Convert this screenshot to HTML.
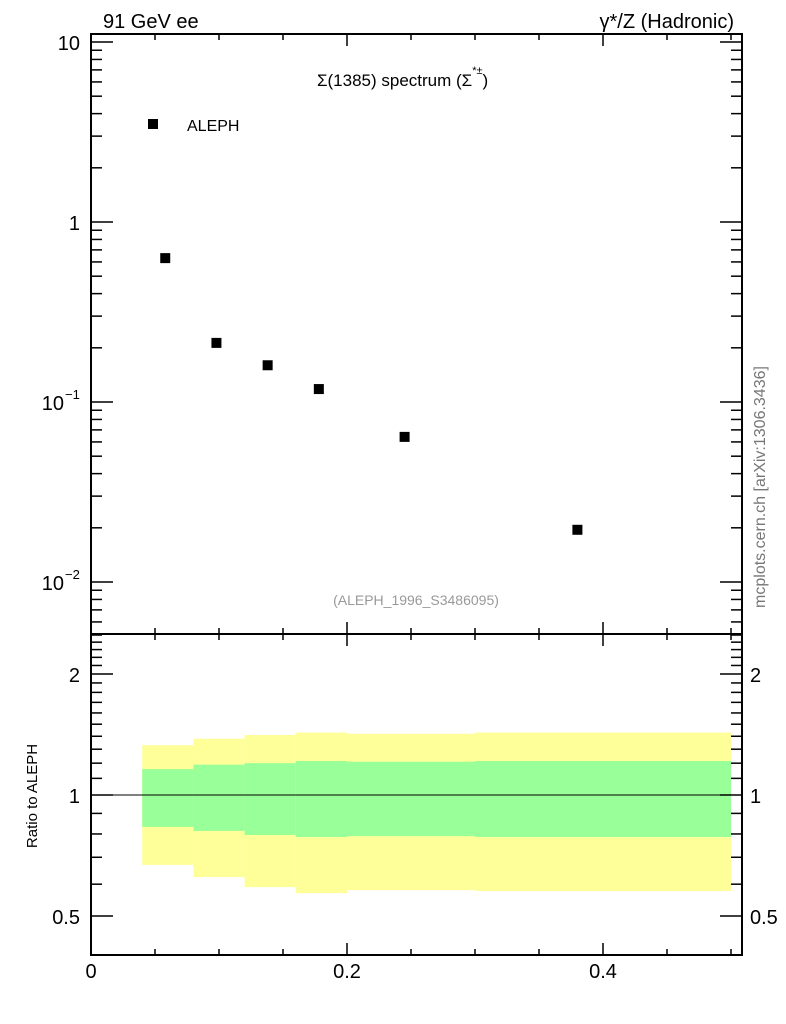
<!DOCTYPE html>
<html><head><meta charset="utf-8"><style>
body{margin:0;background:#fff;}
svg{display:block;font-family:"Liberation Sans",sans-serif;}
</style></head><body>
<svg id="c" width="786" height="1024" viewBox="0 0 786 1024"></svg>
<script>
const xVals=[0.058,0.098,0.138,0.178,0.245,0.38];
const yVals=[0.63,0.213,0.16,0.118,0.064,0.0195];
const binEdges=[0.04,0.08,0.12,0.16,0.2,0.3,0.5];
const yellowHi=[1.33,1.38,1.41,1.43,1.42,1.43];
const greenHi=[1.16,1.19,1.20,1.215,1.21,1.215];
const greenLo=[0.833,0.814,0.795,0.786,0.79,0.786];
const yellowLo=[0.67,0.625,0.59,0.57,0.58,0.577];
const xTickLabels=["0","0.2","0.4"];
const xTickVals=[0,0.2,0.4];

const NS="http://www.w3.org/2000/svg";
const svg=document.getElementById('c');
const L=91,R=742,T=34,MB=634,RB=955;
const X=v=>L+v*1280;
const Y=v=>222-Math.log10(v)*180;
const RY=v=>795-Math.log10(v)*402;
function el(t,a,p){const e=document.createElementNS(NS,t);for(const k in a)e.setAttribute(k,a[k]);(p||svg).appendChild(e);return e;}
function txt(s,a){const e=el('text',a);e.textContent=s;return e;}

const bands=el('g',{});


for(let i=0;i<yellowHi.length;i++){
  const x0=X(binEdges[i]),x1=X(binEdges[i+1]);
  const y=el('rect',{x:x0,y:RY(yellowHi[i]),width:x1-x0,height:RY(yellowLo[i])-RY(yellowHi[i]),fill:'#ffff99'},bands);
  
  
  const g=el('rect',{x:x0,y:RY(greenHi[i]),width:x1-x0,height:RY(greenLo[i])-RY(greenHi[i]),fill:'#99ff99'},bands);
  
  
}
el('line',{x1:L,x2:R,y1:RY(1),y2:RY(1),stroke:'#000','stroke-width':1});

const f1=el('rect',{x:L,y:T,width:R-L,height:MB-T,fill:'none',stroke:'#000','stroke-width':2});


const f2=el('rect',{x:L,y:MB,width:R-L,height:RB-MB,fill:'none',stroke:'#000','stroke-width':2});



for(let k=0;k<=10;k++){
  const v=k*0.05, x=X(v), len=(k%4==0)?12:6;
  for(const [yb,yt] of [[MB,T],[RB,MB]]){
    el('line',{x1:x,x2:x,y1:yb,y2:yb-len,stroke:'#000','stroke-width':1.5});
    el('line',{x1:x,x2:x,y1:yt,y2:yt+len,stroke:'#000','stroke-width':1.5});
  }
}
xTickVals.forEach((v,i)=>{const t=txt(xTickLabels[i],{x:X(v),y:978,'font-size':20,'text-anchor':'middle'});

});

for(let d=-3;d<=1;d++){for(let m=1;m<10;m++){
  const v=m*Math.pow(10,d);const y=Y(v);if(y<T||y>MB)continue;
  const len=m==1?22:11;
  el('line',{x1:L,x2:L+len,y1:y,y2:y,stroke:'#000','stroke-width':1.5});
  el('line',{x1:R,x2:R-len,y1:y,y2:y,stroke:'#000','stroke-width':1.5});
}}
[[10,'10'],[1,'1']].forEach(([v,s])=>{const t=txt(s,{x:80,y:Y(v)+8,'font-size':20,'text-anchor':'end'});

});
[[0.1,'−1'],[0.01,'−2']].forEach(([v,s])=>{const t=txt('10',{x:64,y:Y(v)+8,'font-size':20,'text-anchor':'end'});


txt(s,{x:65,y:Y(v)-3,'font-size':13});});

for(let v=0.4;v<=2.55;v+=0.1){
  const vv=Math.round(v*10)/10;const y=RY(vv);if(y<MB||y>RB)continue;
  const major=(Math.abs(vv-0.5)<1e-6||Math.abs(vv-1)<1e-6||Math.abs(vv-2)<1e-6);
  const len=major?22:11;
  el('line',{x1:L,x2:L+len,y1:y,y2:y,stroke:'#000','stroke-width':1.5});
  el('line',{x1:R,x2:R-len,y1:y,y2:y,stroke:'#000','stroke-width':1.5});
}
[[2,'2'],[1,'1'],[0.5,'0.5']].forEach(([v,s])=>{
  const a=txt(s,{x:80,y:RY(v)+8,'font-size':20,'text-anchor':'end'});
  
  
  const b=txt(s,{x:750,y:RY(v)+8,'font-size':20});
  
  
});

xVals.forEach((v,i)=>{const r=el('rect',{x:X(v)-5,y:Y(yVals[i])-5,width:10,height:10,fill:'#000'});

});

const lm=el('rect',{x:148,y:119,width:10,height:10,fill:'#000'});


const lt=txt('ALEPH',{x:187,y:131,'font-size':16});


const t1=txt('91 GeV ee',{x:103,y:28,'font-size':20});


const t2=txt('γ*/Z (Hadronic)',{x:734,y:28,'font-size':20,'text-anchor':'end'});


const t3=el('text',{x:317,y:86,'font-size':17});


const s1=el('tspan',{},t3);s1.textContent='Σ(1385) spectrum (Σ';
const s2=el('tspan',{dy:-12,'font-size':11},t3);s2.textContent='*±';
const s3=el('tspan',{dy:12},t3);s3.textContent=')';
const t4=txt('(ALEPH_1996_S3486095)',{x:416,y:605,'font-size':14,fill:'#999','text-anchor':'middle'});


const t5=txt('Ratio to ALEPH',{x:0,y:0,'font-size':15,transform:'translate(37,796) rotate(-90)','text-anchor':'middle'});


const t6=txt('mcplots.cern.ch [arXiv:1306.3436]',{x:0,y:0,'font-size':16,fill:'#777',transform:'translate(765,487) rotate(-90)','text-anchor':'middle'});


</script>
</body></html>
